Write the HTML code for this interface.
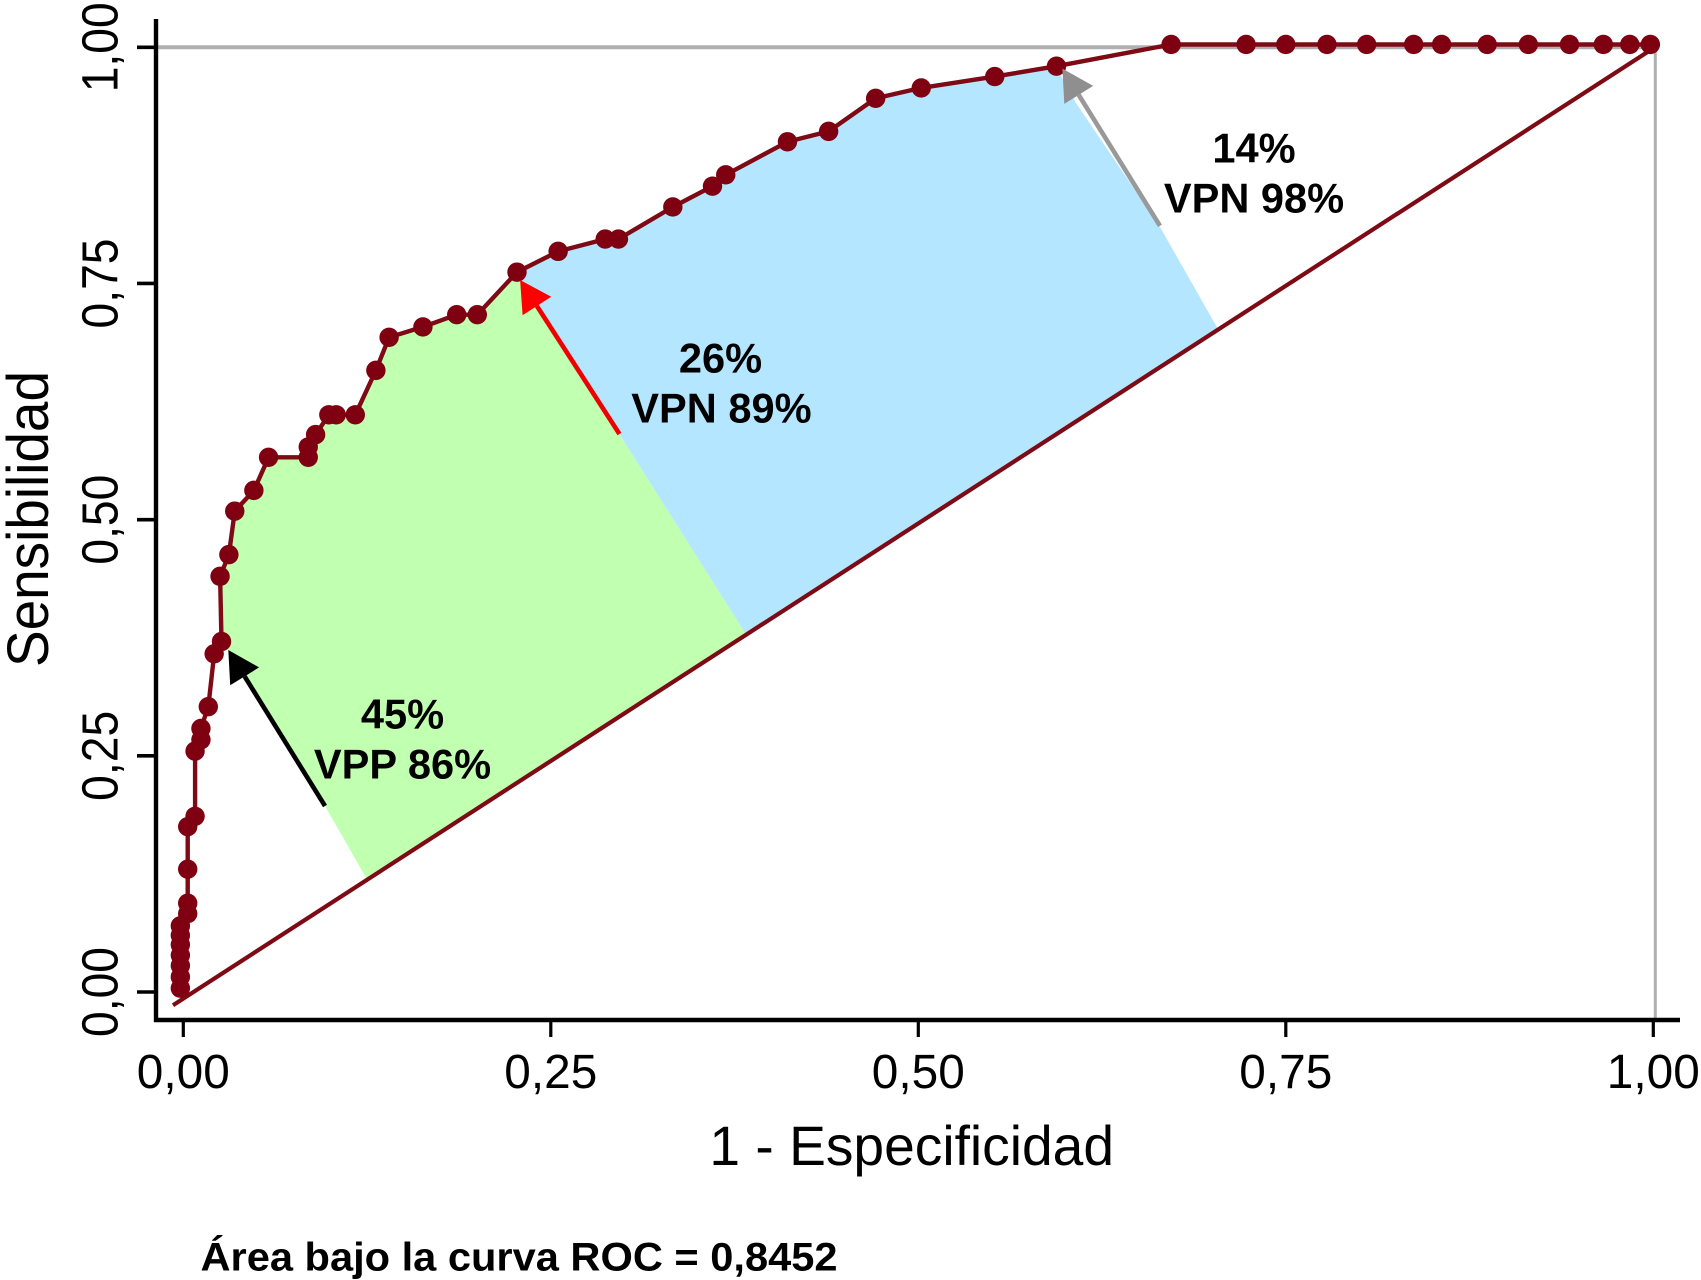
<!DOCTYPE html>
<html lang="es">
<head>
<meta charset="utf-8">
<title>Curva ROC</title>
<style>
html,body{margin:0;padding:0;background:#fff;width:1701px;height:1280px;overflow:hidden}
svg{display:block}
text{font-family:"Liberation Sans",Arial,sans-serif;fill:#000}
</style>
</head>
<body>
<svg id="chart" xmlns="http://www.w3.org/2000/svg" width="1701" height="1280" viewBox="0 0 1701 1280"></svg>
<script>
const rocX = [-0.002,-0.002,-0.002,-0.002,-0.002,-0.002,-0.002,0.003,0.003,0.003,0.003,0.008,0.008,0.012,0.012,0.017,0.021,0.026,0.025,0.031,0.035,0.048,0.058,0.085,0.085,0.090,0.099,0.104,0.117,0.131,0.140,0.163,0.186,0.200,0.227,0.255,0.287,0.296,0.333,0.360,0.369,0.411,0.439,0.471,0.502,0.552,0.594,0.672,0.723,0.750,0.778,0.805,0.837,0.856,0.887,0.915,0.943,0.966,0.984,0.998];
const rocY = [0.004,0.016,0.028,0.039,0.050,0.060,0.070,0.083,0.094,0.130,0.175,0.186,0.255,0.267,0.279,0.302,0.358,0.371,0.440,0.463,0.509,0.531,0.566,0.566,0.577,0.590,0.611,0.611,0.611,0.658,0.693,0.704,0.717,0.717,0.762,0.784,0.797,0.797,0.831,0.853,0.865,0.900,0.911,0.946,0.957,0.969,0.980,1.003,1.003,1.003,1.003,1.003,1.003,1.003,1.003,1.003,1.003,1.003,1.003,1.003];
const diagonalX = [-0.007,1.001];
const diagonalY = [-0.014,1.0];
const xTicks = [0,0.25,0.5,0.75,1];
const yTicks = [0,0.25,0.5,0.75,1];
const xTickLabels = ['0,00','0,25','0,50','0,75','1,00'];
const yTickLabels = ['0,00','0,25','0,50','0,75','1,00'];
const greenStartIndex = 17;
const greenEndIndex = 34;
const greenEdgeX = [0.3837,0.1256,0.0964,0.0304];
const greenEdgeY = [0.3763,0.1175,0.1969,0.362];
const blueStartIndex = 34;
const blueEndIndex = 46;
const blueEdgeX = [0.5978,0.6073,0.6644,0.7048,0.3837];
const blueEdgeY = [0.9675,0.941,0.8098,0.6992,0.3763];
const arrowNames = ['black-arrow','red-arrow','gray-arrow'];
const arrowTailX = [0.0964,0.2967,0.6644];
const arrowTailY = [0.1969,0.5907,0.8110];
const arrowTipX = [0.0306,0.2291,0.5980];
const arrowTipY = [0.3620,0.7537,0.9775];
const arrowShaftColors = ['#000000','#ee0000','#999999'];
const arrowHeadColors = ['#000000','#ff0000','#8f8f8f'];

const X0 = 183.3, XW = 1470, Y0 = 992, YH = 944.7;
function xScale(v){ return X0 + v * XW; }
function yScale(v){ return Y0 - v * YH; }

const svg = document.getElementById('chart');
const NS = 'http://www.w3.org/2000/svg';
function make(tag, attrs){
  const el = document.createElementNS(NS, tag);
  for (const k in attrs) el.setAttribute(k, attrs[k]);
  svg.appendChild(el);
  return el;
}
function addText(str, x, y, size, weight, rot, name, len){
  const el = make('text', {x:x, y:y, 'font-size':size, 'font-weight':weight, 'text-anchor':'middle'});
  if (rot) el.setAttribute('transform', 'rotate(-90 ' + x + ' ' + y + ')');
  if (len) {
    el.setAttribute('textLength', len);
    el.setAttribute('lengthAdjust', 'spacingAndGlyphs');
  }
  el.textContent = str;
  
  
  return el;
}
function pts(xs, ys){
  return xs.map((v,i) => xScale(v).toFixed(1) + ',' + yScale(ys[i]).toFixed(1)).join(' ');
}

/* fills */
const greenPoly = pts(rocX.slice(greenStartIndex, greenEndIndex + 1).concat(greenEdgeX), rocY.slice(greenStartIndex, greenEndIndex + 1).concat(greenEdgeY));
const greenEl = make('polygon', {points: greenPoly, fill: '#c1ffb1'});


const bluePoly = pts(rocX.slice(blueStartIndex, blueEndIndex + 1).concat(blueEdgeX), rocY.slice(blueStartIndex, blueEndIndex + 1).concat(blueEdgeY));
const blueEl = make('polygon', {points: bluePoly, fill: '#b4e6ff'});



/* gray reference lines */
const refTop = make('line', {x1: 156, y1: yScale(1), x2: xScale(1) + 2, y2: yScale(1), stroke: '#b0b0b0', 'stroke-width': 4});


const refRight = make('line', {x1: xScale(1) + 2, y1: yScale(1), x2: xScale(1) + 2, y2: 1019, stroke: '#b0b0b0', 'stroke-width': 3});



/* axes */
const yAxis = make('line', {x1: 156, y1: 19, x2: 156, y2: 1022, stroke: '#000', 'stroke-width': 4.4});


const xAxis = make('line', {x1: 154, y1: 1020, x2: 1680, y2: 1020, stroke: '#000', 'stroke-width': 4.4});



xTicks.forEach((v,i) => {
  const t = make('line', {x1: xScale(v), y1: 1020, x2: xScale(v), y2: 1037, stroke: '#000', 'stroke-width': 3.2});
  
  
  addText(xTickLabels[i], xScale(v), 1088, 48.5, 'normal', false, 'x-tick-label', 93);
});
yTicks.forEach((v,i) => {
  const t = make('line', {x1: 137, y1: yScale(v), x2: 156, y2: yScale(v), stroke: '#000', 'stroke-width': 3.6});
  
  
  addText(yTickLabels[i], 117.5, yScale(v), 51, 'normal', true, 'y-tick-label', 90);
});

/* diagonal */
const diag = make('line', {x1: xScale(diagonalX[0]), y1: yScale(diagonalY[0]), x2: xScale(diagonalX[1]), y2: yScale(diagonalY[1]), stroke: '#7d0a14', 'stroke-width': 4.2});



/* ROC curve */
const curve = make('polyline', {points: pts(rocX, rocY), fill: 'none', stroke: '#7d0a14', 'stroke-width': 4.4, 'stroke-linejoin': 'round'});


rocX.forEach((v,i) => {
  const c = make('circle', {cx: xScale(v), cy: yScale(rocY[i]), r: 9.7, fill: '#7f0010'});
  
  
});

/* arrows */
arrowTailX.forEach((v,i) => {
  const tx = xScale(v), ty = yScale(arrowTailY[i]);
  const hx = xScale(arrowTipX[i]), hy = yScale(arrowTipY[i]);
  const len = Math.hypot(tx - hx, ty - hy);
  const ux = (tx - hx) / len, uy = (ty - hy) / len;
  const bx = hx + ux * 31, by = hy + uy * 31;
  const shaft = make('line', {x1: tx, y1: ty, x2: bx, y2: by, stroke: arrowShaftColors[i], 'stroke-width': 4.6});
  
  
  const p = [hx, hy, bx - uy * 17, by + ux * 17, bx + uy * 17, by - ux * 17].map(n => n.toFixed(1));
  const head = make('polygon', {points: p[0] + ',' + p[1] + ' ' + p[2] + ',' + p[3] + ' ' + p[4] + ',' + p[5], fill: arrowHeadColors[i]});
  
  
});

/* titles and annotations */
addText('1 - Especificidad', 911.7, 1165, 55.5, 'normal', false, 'x-axis-title', 404.6);
addText('Sensibilidad', 48, 519, 58, 'normal', true, 'y-axis-title', 296);
addText('45%', 402.5, 728.6, 41.6, 'bold', false, 'green-percent-label');
addText('VPP 86%', 402.5, 778.6, 41.6, 'bold', false, 'green-vpp-label');
addText('26%', 720.5, 372.7, 41.6, 'bold', false, 'blue-percent-label');
addText('VPN 89%', 721.4, 422.7, 41.6, 'bold', false, 'blue-vpn-label');
addText('14%', 1254, 162.7, 41.6, 'bold', false, 'white-percent-label');
addText('VPN 98%', 1254, 212.7, 41.6, 'bold', false, 'white-vpn-label');
addText('Área bajo la curva ROC = 0,8452', 519, 1270.7, 40, 'bold', false, 'auc-label', 637);
</script>
</body>
</html>
